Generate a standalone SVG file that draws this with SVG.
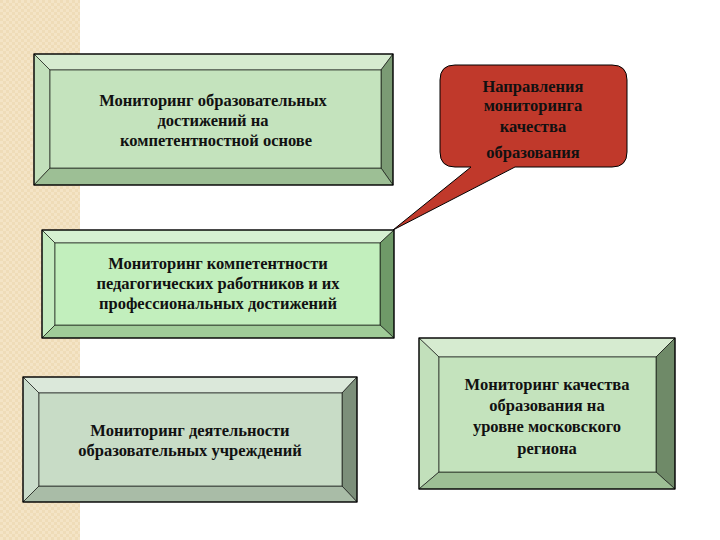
<svg xmlns="http://www.w3.org/2000/svg" width="720" height="540" viewBox="0 0 720 540">
<defs>
<pattern id="chk" width="6" height="6" patternUnits="userSpaceOnUse">
<rect width="6" height="6" fill="#f4e4c6"/><rect width="3" height="3" fill="#efdcb8"/><rect x="3" y="3" width="3" height="3" fill="#efdcb8"/>
</pattern>
</defs>
<style>
.o{stroke:#000;stroke-width:1.2}
.e{stroke:#000;stroke-width:0.6}
text{font-family:'Liberation Serif','Times New Roman','DejaVu Serif',serif;font-weight:bold;font-size:16.5px;fill:#111;text-anchor:middle}
</style>
<rect width="720" height="540" fill="#fff"/>
<rect x="0" y="0" width="80" height="540" fill="url(#chk)"/>

<g id="n1" font-family="Liberation Serif, serif">
<polygon class="e" points="34,54 393,54 381,70 50,70" fill="#d6ebd0"/>
<polygon class="e" points="34,54 50,70 50,168 34,185" fill="#c2e0bb"/>
<polygon class="e" points="393,54 393,185 381,168 381,70" fill="#7b9b74"/>
<polygon class="e" points="34,185 50,168 381,168 393,185" fill="#9dbf95"/>
<rect class="e" x="50" y="70" width="331" height="98" fill="#c4e3bd"/>
<rect class="o" x="34" y="54" width="359" height="131" fill="none"/>
<text x="213" y="106">Мониторинг образовательных</text>
<text x="213" y="126">достижений на</text>
<text x="216" y="146">компетентностной основе</text>
</g>

<g id="n2">
<path d="M455,65 H612 Q627,65 627,80 V152 Q627,167 612,167 H515 L393,230 L471,167 H455 Q440,167 440,152 V80 Q440,65 455,65 Z" fill="#c0392b" stroke="#000" stroke-width="1"/>
<text x="533" y="92">Направления</text>
<text x="533" y="111">мониторинга</text>
<text x="533" y="132">качества</text>
<text x="533" y="158">образования</text>
</g>

<g id="n3">
<polygon class="e" points="42,230 394,230 380,243 55,243" fill="#d6f0d2"/>
<polygon class="e" points="42,230 55,243 55,325 42,338" fill="#c4ecbf"/>
<polygon class="e" points="394,230 394,338 380,325 380,243" fill="#6f9a68"/>
<polygon class="e" points="42,338 55,325 380,325 394,338" fill="#a0cc98"/>
<rect class="e" x="55" y="243" width="325" height="82" fill="#c2efbd"/>
<rect class="o" x="42" y="230" width="352" height="108" fill="none"/>
<text x="218" y="269">Мониторинг компетентности</text>
<text x="218" y="289">педагогических работников и их</text>
<text x="218" y="309">профессиональных достижений</text>
</g>

<g id="n4">
<polygon class="e" points="23,377 357,377 342,393 39,393" fill="#dbe8da"/>
<polygon class="e" points="23,377 39,393 39,486 23,502" fill="#cadccb"/>
<polygon class="e" points="357,377 357,502 342,486 342,393" fill="#7c8f7a"/>
<polygon class="e" points="23,502 39,486 342,486 357,502" fill="#a9bca7"/>
<rect class="e" x="39" y="393" width="303" height="93" fill="#c8dcc6"/>
<rect class="o" x="23" y="377" width="334" height="125" fill="none"/>
<text x="190" y="436">Мониторинг деятельности</text>
<text x="190" y="456">образовательных учреждений</text>
</g>

<g id="n5">
<polygon class="e" points="419,338 675,338 656,357 439,357" fill="#d6ebd0"/>
<polygon class="e" points="419,338 439,357 439,472 419,489" fill="#c2e0bb"/>
<polygon class="e" points="675,338 675,489 656,472 656,357" fill="#6f8a68"/>
<polygon class="e" points="419,489 439,472 656,472 675,489" fill="#9dbf95"/>
<rect class="e" x="439" y="357" width="217" height="115" fill="#c4e3bd"/>
<rect class="o" x="419" y="338" width="256" height="151" fill="none"/>
<text x="547" y="390">Мониторинг качества</text>
<text x="547" y="411">образования на</text>
<text x="547" y="432">уровне московского</text>
<text x="547" y="454">региона</text>
</g>

<g id="connectors"></g>
</svg>
